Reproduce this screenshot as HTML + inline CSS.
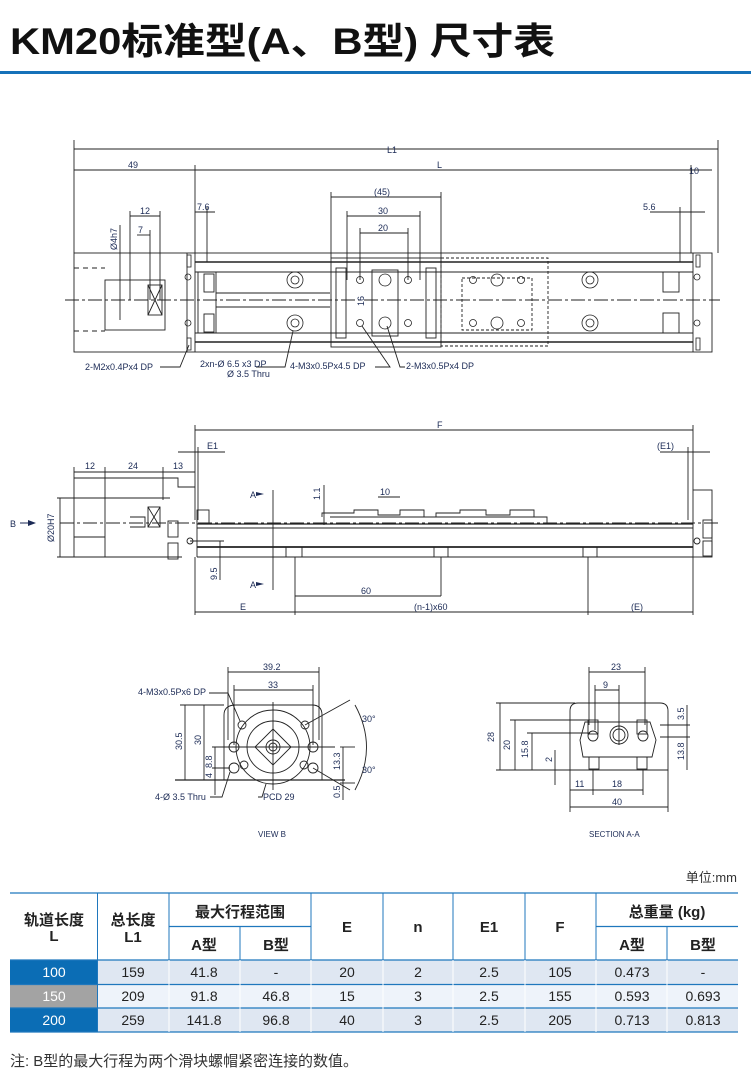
<!DOCTYPE html>
<html><head><meta charset="utf-8"><style>
body{margin:0;background:#fff;width:751px;height:1084px;overflow:hidden;font-family:"Liberation Sans","Noto Sans CJK SC",sans-serif}
svg{position:absolute;left:0;top:0}
</style></head><body>
<svg width="751" height="1084" viewBox="0 0 751 1084" xmlns="http://www.w3.org/2000/svg" font-family="Liberation Sans, Noto Sans CJK SC, sans-serif">
<text x="10" y="54" font-size="37" font-weight="bold" fill="#111" textLength="545" lengthAdjust="spacingAndGlyphs">KM20标准型(A、B型) 尺寸表</text>
<rect x="0" y="71" width="751" height="3" fill="#1671b9"/>

<g stroke="#222" stroke-width="0.9" fill="none">
<!-- top view dims -->
<line x1="74" y1="149" x2="718" y2="149"/>
<line x1="74" y1="170" x2="712" y2="170"/>
<line x1="74" y1="140" x2="74" y2="253"/><line x1="718" y1="140" x2="718" y2="253"/>
<line x1="195" y1="165" x2="195" y2="253"/><line x1="691" y1="165" x2="691" y2="253"/>
<line x1="331" y1="197" x2="441" y2="197"/><line x1="331" y1="192" x2="331" y2="258"/><line x1="441" y1="192" x2="441" y2="258"/>
<line x1="347" y1="216" x2="420" y2="216"/><line x1="347" y1="211" x2="347" y2="280"/><line x1="420" y1="211" x2="420" y2="280"/>
<line x1="360" y1="233" x2="408" y2="233"/><line x1="360" y1="228" x2="360" y2="280"/><line x1="408" y1="228" x2="408" y2="280"/>
<line x1="195" y1="212" x2="215" y2="212"/><line x1="207" y1="207" x2="207" y2="262"/>
<line x1="650" y1="212" x2="705" y2="212"/><line x1="680" y1="207" x2="680" y2="262"/>
<line x1="130" y1="216" x2="160" y2="216"/><line x1="130" y1="211" x2="130" y2="300"/><line x1="160" y1="211" x2="160" y2="300"/>
<line x1="137" y1="235" x2="150" y2="235"/><line x1="150" y1="230" x2="150" y2="300"/>
<line x1="120" y1="225" x2="120" y2="320"/>
<!-- top body -->
<rect x="74" y="253" width="638" height="99"/>
<line x1="187" y1="253" x2="187" y2="352"/><line x1="195" y1="253" x2="195" y2="352"/><line x1="693" y1="253" x2="693" y2="352"/>
<line x1="195" y1="262" x2="693" y2="262" stroke-width="1.5"/><line x1="195" y1="272" x2="693" y2="272"/>
<line x1="195" y1="333" x2="693" y2="333"/><line x1="195" y1="342" x2="693" y2="342" stroke-width="1.5"/>
<rect x="105" y="280" width="60" height="50"/>
<rect x="148" y="285" width="14" height="30"/><line x1="148" y1="285" x2="162" y2="315"/><line x1="162" y1="285" x2="148" y2="315"/>
<line x1="74" y1="268" x2="105" y2="268" stroke-dasharray="5,4"/><line x1="74" y1="331" x2="105" y2="331" stroke-dasharray="5,4"/>
<rect x="198" y="272" width="18" height="61"/><rect x="204" y="274" width="10" height="18"/><rect x="204" y="314" width="10" height="18"/>
<path d="M216 293 L330 293 M216 307 L330 307"/>
<rect x="331" y="258" width="110" height="89"/><rect x="336" y="268" width="10" height="70"/><rect x="426" y="268" width="10" height="70"/>
<rect x="372" y="270" width="26" height="66"/>
<rect x="441" y="258" width="107" height="88" stroke-dasharray="3,2"/><rect x="462" y="278" width="70" height="52" stroke-dasharray="3,2"/>
<rect x="663" y="272" width="16" height="20"/><rect x="663" y="313" width="16" height="20"/>
<line x1="65" y1="300" x2="720" y2="300" stroke-dasharray="14,3,3,3"/>
<g stroke-width="0.8">
<circle cx="295" cy="280" r="8"/><circle cx="295" cy="280" r="4"/><circle cx="295" cy="323" r="8"/><circle cx="295" cy="323" r="4"/>
<circle cx="590" cy="280" r="8"/><circle cx="590" cy="280" r="4"/><circle cx="590" cy="323" r="8"/><circle cx="590" cy="323" r="4"/>
<circle cx="385" cy="280" r="6"/><circle cx="385" cy="323" r="6"/><circle cx="497" cy="280" r="6"/><circle cx="497" cy="323" r="6"/>
<circle cx="360" cy="280" r="3.5"/><circle cx="408" cy="280" r="3.5"/><circle cx="360" cy="323" r="3.5"/><circle cx="408" cy="323" r="3.5"/>
<circle cx="473" cy="280" r="3.5"/><circle cx="521" cy="280" r="3.5"/><circle cx="473" cy="323" r="3.5"/><circle cx="521" cy="323" r="3.5"/>
<circle cx="188" cy="277" r="3"/><circle cx="188" cy="323" r="3"/><circle cx="697" cy="277" r="3"/><circle cx="697" cy="323" r="3"/>
<rect x="187" y="255" width="4" height="12"/><rect x="187" y="338" width="4" height="12"/><rect x="696" y="255" width="4" height="12"/><rect x="696" y="338" width="4" height="12"/>
</g>
<path d="M160 367 L180 367 L189 345 M256 367 L285 367 L293 331 M375 367 L390 367 L362 326 M405 367 L400 367 L387 326"/>

<!-- side view -->
<line x1="195" y1="430" x2="693" y2="430"/><line x1="195" y1="425" x2="195" y2="520"/><line x1="693" y1="425" x2="693" y2="490"/>
<line x1="178" y1="452" x2="225" y2="452"/><line x1="198" y1="447" x2="198" y2="520"/>
<line x1="660" y1="452" x2="710" y2="452"/><line x1="688" y1="447" x2="688" y2="520"/>
<line x1="74" y1="472" x2="195" y2="472"/><line x1="74" y1="467" x2="74" y2="478"/><line x1="105" y1="467" x2="105" y2="478"/><line x1="163" y1="467" x2="163" y2="500"/>
<path d="M74 478 L178 478 L178 487 L195 487 M74 478 L74 557 L182 557 M105 478 L105 557 M74 498 L105 498 M74 537 L105 537 M105 498 L170 498 M130 517 L145 517 L145 527 L130 527"/>
<rect x="148" y="507" width="12" height="20"/><line x1="148" y1="507" x2="160" y2="527"/><line x1="160" y1="507" x2="148" y2="527"/>
<rect x="168" y="521" width="10" height="16"/><rect x="168" y="543" width="10" height="16"/>
<line x1="57" y1="498" x2="74" y2="498"/><line x1="57" y1="557" x2="74" y2="557"/><line x1="60" y1="498" x2="60" y2="557"/>
<rect x="197" y="510" width="12" height="14"/>
<line x1="197" y1="524" x2="693" y2="524" stroke-width="1.3"/><line x1="197" y1="528" x2="693" y2="528"/>
<line x1="197" y1="547" x2="693" y2="547" stroke-width="1.8"/><line x1="197" y1="557" x2="693" y2="557"/>
<line x1="197" y1="520" x2="197" y2="557"/>
<path d="M322 517 L322 513 L354 513 L354 510 L378 510 L378 515 L400 515 L400 510 L424 510 L424 517 M436 517 L436 513 L460 513 L460 510 L486 510 L486 515 L510 515 L510 510 L534 510 L534 517 M330 517 L547 517 L547 524"/>
<path d="M286 547 L286 557 M302 547 L302 557 M434 547 L434 557 M448 547 L448 557 M583 547 L583 557 M597 547 L597 557"/>
<rect x="693" y="490" width="19" height="67"/><rect x="703" y="520" width="9" height="18"/><rect x="703" y="541" width="9" height="15"/>
<line x1="60" y1="523" x2="720" y2="523" stroke-dasharray="14,3,3,3"/>
<line x1="273" y1="490" x2="273" y2="590"/><line x1="324" y1="485" x2="324" y2="525"/>
<line x1="378" y1="497" x2="400" y2="497"/>
<line x1="190" y1="541" x2="224" y2="541"/><line x1="220" y1="541" x2="220" y2="580"/>
<line x1="195" y1="557" x2="195" y2="615"/><line x1="295" y1="557" x2="295" y2="615"/><line x1="441" y1="557" x2="441" y2="596"/><line x1="588" y1="557" x2="588" y2="615"/><line x1="693" y1="557" x2="693" y2="615"/>
<line x1="295" y1="596" x2="441" y2="596"/>
<line x1="195" y1="612" x2="693" y2="612"/>
<circle cx="190" cy="541" r="3"/><circle cx="697" cy="541" r="3"/>

<!-- view B -->
<line x1="228" y1="672" x2="319" y2="672"/><line x1="228" y1="667" x2="228" y2="740"/><line x1="319" y1="667" x2="319" y2="740"/>
<line x1="234" y1="690" x2="313" y2="690"/><line x1="234" y1="685" x2="234" y2="745"/><line x1="313" y1="685" x2="313" y2="745"/>
<path d="M236 705 L312 705 Q322 705 322 715 L322 780 L224 780 L224 715 Q224 705 236 705 Z"/>
<line x1="175" y1="780" x2="345" y2="780" stroke-width="1.3"/>
<circle cx="273" cy="747" r="37"/><circle cx="273" cy="747" r="26"/>
<path d="M273 729 L291 747 L273 765 L255 747 Z"/><circle cx="273" cy="747" r="7"/><circle cx="273" cy="747" r="4"/>
<line x1="273" y1="702" x2="273" y2="790"/><line x1="215" y1="747" x2="335" y2="747"/>
<circle cx="242" cy="725" r="4"/><circle cx="305" cy="725" r="4"/><circle cx="244" cy="765" r="4"/><circle cx="304" cy="765" r="4"/>
<circle cx="234" cy="747" r="5"/><circle cx="313" cy="747" r="5"/><circle cx="234" cy="768" r="5"/><circle cx="313" cy="768" r="5"/>
<line x1="180" y1="705" x2="224" y2="705"/><line x1="185" y1="705" x2="185" y2="780"/><line x1="204" y1="705" x2="204" y2="780"/>
<line x1="212" y1="747" x2="230" y2="747"/><line x1="212" y1="768" x2="230" y2="768"/><line x1="215" y1="747" x2="215" y2="795"/>
<line x1="340" y1="747" x2="355" y2="747"/><line x1="340" y1="783" x2="355" y2="783"/><line x1="343" y1="747" x2="343" y2="800"/>
<path d="M209 693 L228 693 L240 721 M355 705 Q378 747 355 790 M305 725 L350 700 M313 768 L350 790"/>
<path d="M210 797 L222 797 L230 772 M258 797 L262 797 L266 784"/>

<!-- section A-A -->
<line x1="589" y1="672" x2="645" y2="672"/><line x1="589" y1="667" x2="589" y2="725"/><line x1="645" y1="667" x2="645" y2="725"/>
<line x1="595" y1="690" x2="619" y2="690"/><line x1="595" y1="685" x2="595" y2="730"/><line x1="619" y1="685" x2="619" y2="745"/>
<path d="M578 703 L660 703 Q668 703 668 711 L668 770 L570 770 L570 711 Q570 703 578 703 Z"/>
<path d="M585 722 L650 722 L656 740 L652 757 L583 757 L580 740 Z"/>
<circle cx="619" cy="735" r="9"/><circle cx="619" cy="735" r="6"/>
<rect x="588" y="720" width="10" height="14"/><rect x="637" y="720" width="10" height="14"/>
<circle cx="593" cy="736" r="5"/><circle cx="643" cy="736" r="5"/>
<rect x="589" y="757" width="10" height="12"/><rect x="637" y="757" width="10" height="12"/>
<line x1="496" y1="703" x2="575" y2="703"/><line x1="500" y1="703" x2="500" y2="770"/>
<line x1="510" y1="720" x2="590" y2="720"/><line x1="515" y1="720" x2="515" y2="770"/>
<line x1="527" y1="733" x2="590" y2="733"/><line x1="532" y1="733" x2="532" y2="770"/>
<line x1="496" y1="770" x2="570" y2="770"/>
<line x1="555" y1="750" x2="555" y2="785"/>
<line x1="660" y1="725" x2="690" y2="725"/><line x1="660" y1="737" x2="690" y2="737"/><line x1="687" y1="705" x2="687" y2="770"/>
<line x1="570" y1="790" x2="643" y2="790"/><line x1="570" y1="770" x2="570" y2="812"/><line x1="593" y1="770" x2="593" y2="795"/><line x1="643" y1="770" x2="643" y2="795"/><line x1="668" y1="770" x2="668" y2="812"/>
<line x1="570" y1="807" x2="668" y2="807"/>
</g>

<g fill="#1b2a55" font-size="9">
<text x="387" y="153">L1</text><text x="128" y="168">49</text><text x="437" y="168">L</text><text x="689" y="174">10</text>
<text x="374" y="195">(45)</text><text x="378" y="214">30</text><text x="378" y="231">20</text>
<text x="197" y="210">7.6</text><text x="643" y="210">5.6</text><text x="140" y="214">12</text><text x="138" y="233">7</text>
<text transform="translate(117,250) rotate(-90)">Ø4h7</text><text transform="translate(364,306) rotate(-90)">16</text>
<text x="85" y="370">2-M2x0.4Px4 DP</text><text x="200" y="367">2xn-Ø 6.5 x3 DP</text><text x="227" y="377">Ø 3.5 Thru</text>
<text x="290" y="369">4-M3x0.5Px4.5 DP</text><text x="406" y="369">2-M3x0.5Px4 DP</text>
<text x="437" y="428">F</text><text x="207" y="449">E1</text><text x="657" y="449">(E1)</text>
<text x="85" y="469">12</text><text x="128" y="469">24</text><text x="173" y="469">13</text>
<text x="250" y="498">A</text><text x="250" y="588">A</text><text x="10" y="527">B</text>
<text x="380" y="495">10</text><text transform="translate(320,500) rotate(-90)">1.1</text>
<text transform="translate(217,580) rotate(-90)">9.5</text><text transform="translate(54,542) rotate(-90)">Ø20H7</text>
<text x="361" y="594">60</text><text x="240" y="610">E</text><text x="414" y="610">(n-1)x60</text><text x="631" y="610">(E)</text>
<text x="263" y="670">39.2</text><text x="268" y="688">33</text>
<text x="138" y="695">4-M3x0.5Px6 DP</text><text x="155" y="800">4-Ø 3.5  Thru</text><text x="263" y="800">PCD 29</text>
<text transform="translate(182,750) rotate(-90)">30.5</text><text transform="translate(201,745) rotate(-90)">30</text>
<text transform="translate(212,768) rotate(-90)">8.8</text><text transform="translate(212,778) rotate(-90)">4</text>
<text transform="translate(340,770) rotate(-90)">13.3</text><text transform="translate(340,798) rotate(-90)">0.5</text>
<text x="362" y="722">30°</text><text x="362" y="773">30°</text>
<text x="611" y="670">23</text><text x="603" y="688">9</text>
<text transform="translate(494,742) rotate(-90)">28</text><text transform="translate(510,750) rotate(-90)">20</text>
<text transform="translate(528,758) rotate(-90)">15.8</text><text transform="translate(552,762) rotate(-90)">2</text>
<text transform="translate(684,720) rotate(-90)">3.5</text><text transform="translate(684,760) rotate(-90)">13.8</text>
<text x="575" y="787">11</text><text x="612" y="787">18</text><text x="612" y="805">40</text>
<text x="258" y="837" font-size="8">VIEW B</text><text x="589" y="837" font-size="8">SECTION A-A</text>
</g>
<g fill="#1b2a55"><path d="M36 523 L28 520 L28 526 Z M264 494 L256 492 L256 496Z M264 584 L256 582 L256 586Z"/><line x1="20" y1="523" x2="30" y2="523" stroke="#1b2a55"/></g>

<!-- table -->
<text x="737" y="882" font-size="13" fill="#333" text-anchor="end">单位:mm</text>
<rect x="10" y="960" width="87" height="24.5" fill="#0b6db5"/>
<rect x="10" y="984.5" width="87" height="23.5" fill="#a3a3a3"/>
<rect x="10" y="1008" width="87" height="24" fill="#0b6db5"/>
<rect x="97" y="960" width="641" height="24.5" fill="#dfe7f2"/>
<rect x="97" y="984.5" width="641" height="23.5" fill="#eef3fa"/>
<rect x="97" y="1008" width="641" height="24" fill="#dfe7f2"/>
<g stroke="#1f77bd" stroke-width="1.2">
<line x1="10" y1="893" x2="738" y2="893"/><line x1="169" y1="926.5" x2="311" y2="926.5"/><line x1="596" y1="926.5" x2="738" y2="926.5"/>
<line x1="10" y1="960" x2="738" y2="960"/><line x1="10" y1="984.5" x2="738" y2="984.5"/><line x1="10" y1="1008" x2="738" y2="1008"/><line x1="10" y1="1032" x2="738" y2="1032"/>
</g>
<g stroke="#1f77bd" stroke-width="1">
<line x1="97.5" y1="893" x2="97.5" y2="1032"/><line x1="169" y1="893" x2="169" y2="960"/><line x1="240" y1="926.5" x2="240" y2="960"/>
<line x1="311" y1="893" x2="311" y2="960"/><line x1="383" y1="893" x2="383" y2="960"/><line x1="453" y1="893" x2="453" y2="960"/><line x1="525" y1="893" x2="525" y2="960"/><line x1="596" y1="893" x2="596" y2="960"/><line x1="667" y1="926.5" x2="667" y2="960"/>
</g>
<g stroke="#fff" stroke-width="1"><line x1="169" y1="960" x2="169" y2="1032"/><line x1="240" y1="960" x2="240" y2="1032"/><line x1="311" y1="960" x2="311" y2="1032"/><line x1="383" y1="960" x2="383" y2="1032"/><line x1="453" y1="960" x2="453" y2="1032"/><line x1="525" y1="960" x2="525" y2="1032"/><line x1="596" y1="960" x2="596" y2="1032"/><line x1="667" y1="960" x2="667" y2="1032"/></g>
<g font-size="15" font-weight="bold" fill="#222" text-anchor="middle">
<text x="54" y="925">轨道长度</text><text x="54" y="941">L</text>
<text x="133" y="925">总长度</text><text x="133" y="942">L1</text>
<text x="240" y="917">最大行程范围</text><text x="204" y="950">A型</text><text x="276" y="950">B型</text>
<text x="347" y="932">E</text><text x="418" y="932">n</text><text x="489" y="932">E1</text><text x="560" y="932">F</text>
<text x="667" y="917">总重量 (kg)</text><text x="632" y="950">A型</text><text x="703" y="950">B型</text>
</g>
<g font-size="14" fill="#222" text-anchor="middle">
<text x="54" y="977" fill="#fff">100</text><text x="54" y="1001" fill="#fff">150</text><text x="54" y="1025" fill="#fff">200</text>
<text x="133" y="977">159</text><text x="204" y="977">41.8</text><text x="276" y="977">-</text><text x="347" y="977">20</text><text x="418" y="977">2</text><text x="489" y="977">2.5</text><text x="560" y="977">105</text><text x="632" y="977">0.473</text><text x="703" y="977">-</text>
<text x="133" y="1001">209</text><text x="204" y="1001">91.8</text><text x="276" y="1001">46.8</text><text x="347" y="1001">15</text><text x="418" y="1001">3</text><text x="489" y="1001">2.5</text><text x="560" y="1001">155</text><text x="632" y="1001">0.593</text><text x="703" y="1001">0.693</text>
<text x="133" y="1025">259</text><text x="204" y="1025">141.8</text><text x="276" y="1025">96.8</text><text x="347" y="1025">40</text><text x="418" y="1025">3</text><text x="489" y="1025">2.5</text><text x="560" y="1025">205</text><text x="632" y="1025">0.713</text><text x="703" y="1025">0.813</text>
</g>
<text x="10" y="1066" font-size="15" fill="#333" textLength="348" lengthAdjust="spacingAndGlyphs">注: B型的最大行程为两个滑块螺帽紧密连接的数值。</text>
</svg>
</body></html>
